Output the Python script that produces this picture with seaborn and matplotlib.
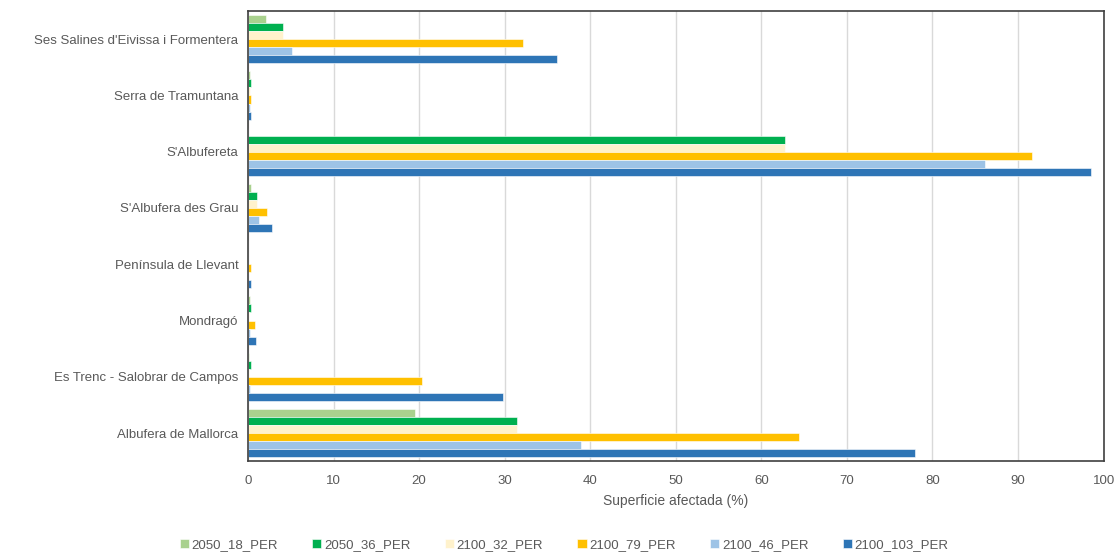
import pandas as pd
import seaborn as sns
import matplotlib.pyplot as plt

sns.set_theme(style='white')
plt.rcParams['font.family'] = ['Liberation Sans', 'DejaVu Sans']

zones = ['Ses Salines d\'Eivissa i Formentera', 'Serra de Tramuntana', "S'Albufereta",
         "S'Albufera des Grau", 'Península de Llevant', 'Mondragó',
         'Es Trenc - Salobrar de Campos', 'Albufera de Mallorca']

scenarios = ['2050_18_PER', '2050_36_PER', '2100_32_PER', '2100_79_PER', '2100_46_PER', '2100_103_PER']
colors = ['#A9D18E', '#00B050', '#FFF2CC', '#FFC000', '#9DC3E6', '#2E75B6']

s2050_18 = [2.1, 0.2, 0.0, 0.3, 0.0, 0.2, 0.1, 19.5]
s2050_36 = [4.1, 0.3, 62.8, 1.1, 0.0, 0.3, 0.35, 31.5]
s2100_32 = [4.1, 0.2, 62.8, 1.0, 0.05, 0.1, 0.1, 31.5]
s2100_79 = [32.1, 0.3, 91.6, 2.25, 0.4, 0.8, 20.3, 64.4]
s2100_46 = [5.1, 0.2, 86.1, 1.3, 0.05, 0.2, 0.2, 38.9]
s2100_103 = [36.1, 0.3, 98.5, 2.8, 0.4, 0.9, 29.8, 77.9]

series = [s2050_18, s2050_36, s2100_32, s2100_79, s2100_46, s2100_103]
rows = []
for name, vals in zip(scenarios, series):
    for z, v in zip(zones, vals):
        rows.append({'zona': z, 'escenario': name, 'valor': v})
df = pd.DataFrame(rows)

fig = plt.figure(figsize=(11.17, 5.53), dpi=100)
ax = fig.add_axes([0.222, 0.166, 0.766, 0.814])

sns.barplot(data=df, x='valor', y='zona', hue='escenario', order=zones, hue_order=scenarios,
            palette=colors, saturation=1, orient='h', errorbar=None, width=0.86, ax=ax,
            edgecolor='white', linewidth=0.4)

ax.set_xlim(0, 100)
ax.set_xticks(range(0, 101, 10))
ax.xaxis.grid(True, color='#D9D9D9', linewidth=1)
ax.set_axisbelow(True)
ax.set_ylabel('')
ax.set_xlabel('Superficie afectada (%)', fontsize=10, color='#595959', labelpad=5)
ax.tick_params(axis='x', length=0, labelsize=9.5, labelcolor='#595959', pad=10)
ax.tick_params(axis='y', length=0, labelsize=9.5, labelcolor='#595959', pad=7)
for sp in ax.spines.values():
    sp.set_color('#404040')
    sp.set_linewidth(1.2)

handles, labels = ax.get_legend_handles_labels()
ax.legend().remove()
fig.legend(handles, labels, loc='lower center', bbox_to_anchor=(0.505, -0.018), ncol=6,
           frameon=False, fontsize=9.5, handlelength=0.7, handleheight=0.7,
           handletextpad=0.2, columnspacing=2.6, labelcolor='#595959')

fig.savefig('out.png', dpi=100)
